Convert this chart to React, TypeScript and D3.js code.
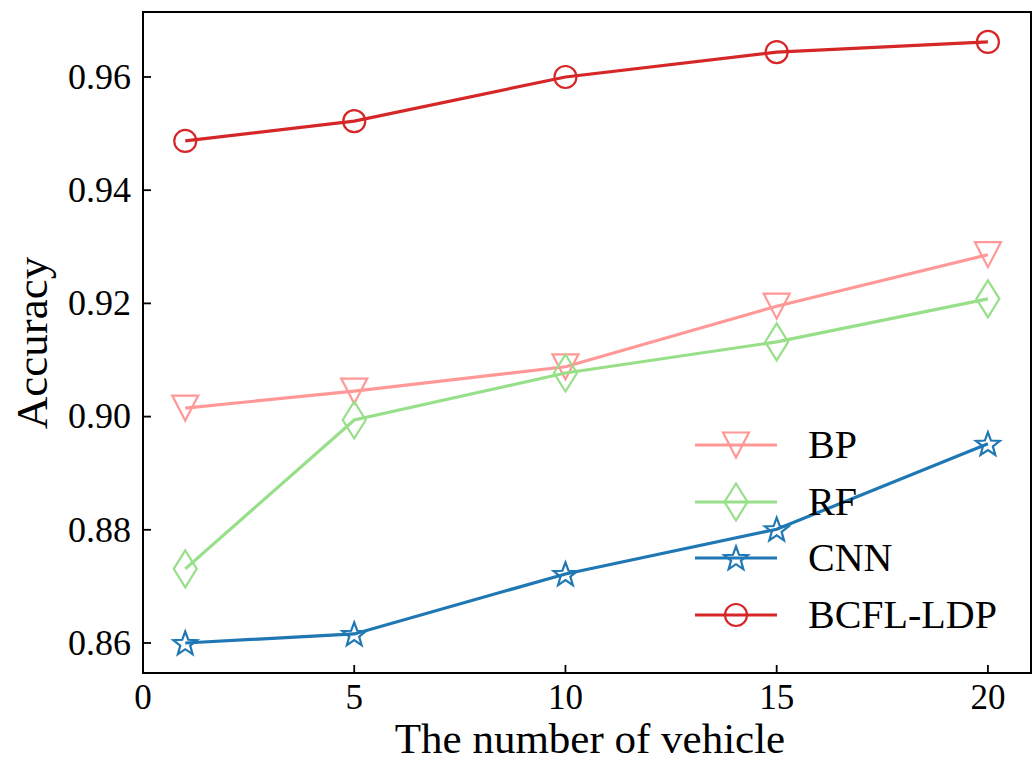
import React from 'react';
import * as d3 from 'd3';

const vehicles = [1, 5, 10, 15, 20];
const bpAcc = [0.9015, 0.9045, 0.9088, 0.9195, 0.9286];
const rfAcc = [0.8731, 0.8994, 0.9077, 0.9132, 0.9208];
const cnnAcc = [0.8600, 0.8616, 0.8722, 0.8801, 0.8952];
const ldpAcc = [0.9487, 0.9522, 0.9600, 0.9644, 0.9662];
const xTicks = [0, 5, 10, 15, 20];
const yTicks = [0.86, 0.88, 0.90, 0.92, 0.94, 0.96];

const series = [
  { name: 'BP', values: bpAcc, color: '#ff9896', marker: 'tri' },
  { name: 'RF', values: rfAcc, color: '#98df8a', marker: 'diamond' },
  { name: 'CNN', values: cnnAcc, color: '#1f77b4', marker: 'star' },
  { name: 'BCFL-LDP', values: ldpAcc, color: '#d62728', marker: 'circle' },
];

const FONT = '"Liberation Serif", "Times New Roman", serif';

// marker outline paths, centred on 0,0
const markerPath = (kind: string) => {
  if (kind === 'tri') return 'M-13,-12.5L13,-12.5L0,12.5Z';
  if (kind === 'diamond') return 'M0,-18.5L11.5,0L0,18.5L-11.5,0Z';
  if (kind === 'circle') return d3.arc()({ innerRadius: 0, outerRadius: 11, startAngle: 0, endAngle: 2 * Math.PI }) as string;
  const pts: string[] = [];
  for (let i = 0; i < 10; i++) {
    const r = i % 2 === 0 ? 12.5 : 5.2;
    const a = -Math.PI / 2 + (i * Math.PI) / 5;
    pts.push(`${(r * Math.cos(a)).toFixed(2)},${(r * Math.sin(a) + 1).toFixed(2)}`);
  }
  return 'M' + pts.join('L') + 'Z';
};

const App = () => {
  const margin = { left: 143, top: 12, right: 4, bottom: 89 };
  const W = 1035;
  const H = 762;
  const innerW = W - margin.left - margin.right;
  const innerH = H - margin.top - margin.bottom;

  const x = d3.scaleLinear().domain([0, 21.02]).range([0, innerW]);
  const y = d3.scaleLinear().domain([0.8547, 0.97148]).range([innerH, 0]);

  const line = d3.line<number>()
    .x((_, i) => x(vehicles[i]))
    .y(d => y(d));

  const legendX = 695;
  const legendY = [445, 502, 558, 615];

  return (
    <svg width={W} height={H} style={{ position: 'absolute', left: 0, top: 0, background: '#fff' }}>
      <g transform={`translate(${margin.left},${margin.top})`}>
        {series.map(s => (
          <g key={s.name}>
            <path d={line(s.values) as string} fill="none" stroke={s.color} strokeWidth={3.2} />
            {s.values.map((v, i) => (
              <path key={i} d={markerPath(s.marker)} transform={`translate(${x(vehicles[i])},${y(v)})`}
                fill="none" stroke={s.color} strokeWidth={2.2} />
            ))}
          </g>
        ))}
        <rect x={0} y={0} width={innerW} height={innerH} fill="none" stroke="#000" strokeWidth={2} />
        {xTicks.map(t => (
          <g key={t} transform={`translate(${x(t)},${innerH})`}>
            <line y2={-8} stroke="#000" strokeWidth={1.8} />
            <text y={36} textAnchor="middle" fontFamily={FONT} fontSize={35}>{t}</text>
          </g>
        ))}
        {yTicks.map(t => (
          <g key={t} transform={`translate(0,${y(t)})`}>
            <line x2={8} stroke="#000" strokeWidth={1.8} />
            <text x={-12} dy="0.33em" textAnchor="end" fontFamily={FONT} fontSize={36}>{t.toFixed(2)}</text>
          </g>
        ))}
      </g>
      <text x={590} y={753} textAnchor="middle" fontFamily={FONT} fontSize={43}>The number of vehicle</text>
      <text transform={`translate(47,343) rotate(-90)`} textAnchor="middle" fontFamily={FONT} fontSize={45}>Accuracy</text>
      {series.map((s, i) => (
        <g key={s.name} transform={`translate(${legendX},${legendY[i]})`}>
          <line x1={0} x2={82} stroke={s.color} strokeWidth={3.2} />
          <path d={markerPath(s.marker)} transform="translate(41,0)" fill="none" stroke={s.color} strokeWidth={2.2} />
          <text x={113} dy="0.33em" fontFamily={FONT} fontSize={40}>{s.name}</text>
        </g>
      ))}
    </svg>
  );
};

export default App;
